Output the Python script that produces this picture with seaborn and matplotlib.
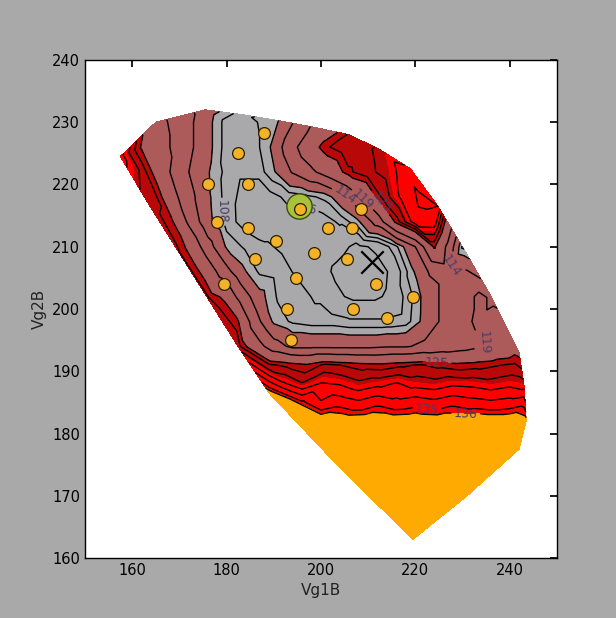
import numpy as np
import matplotlib
matplotlib.use("Agg")
import matplotlib.pyplot as plt
import matplotlib.tri as mtri
import seaborn as sns

# Measured response surface: boundary samples (convex outline of the scan)
edge_x = [157.5, 165.0, 175.5, 183.0, 190.75, 198.5, 206.0, 212.7, 219.0, 224.8, 230.0,
          236.3, 242.0, 243.1, 243.5, 242.0, 231.0, 219.5, 204.0, 189.0, 182.5, 176.2,
          169.9, 163.6]
edge_y = [224.5, 230.0, 232.0, 231.25, 230.3, 229.2, 228.0, 225.5, 222.5, 216.5, 210.0,
          201.7, 193.0, 187.5, 182.0, 177.5, 170.0, 163.0, 174.5, 186.5, 193.9, 201.5,
          209.1, 216.7]
edge_z = [132.0, 121.0, 112.0, 107.0, 109.6, 120.0, 127.4, 129.4, 131.4, 133.0, 107.5,
          118.0, 124.0, 130.4, 136.6, 140.0, 144.0, 150.0, 141.0, 137.0, 128.0, 127.4,
          127.2, 127.6]

# Interior samples, one row per Vg2B setting
row_y = [230, 226, 222, 218, 214, 210, 206, 202, 198, 194, 191, 188, 185, 182, 178, 172, 167]
row_x = [
    [170, 175, 180, 185, 189],
    [162, 166, 170, 175, 180, 185, 189, 193, 197, 201, 205, 209],
    [162, 166, 170, 174, 178, 182, 186, 190, 194, 198, 202, 206, 210, 214, 218],
    [165, 169, 173, 177, 181, 185, 189, 193, 197, 201, 205, 209, 213, 217, 221],
    [168, 172, 176, 180, 184, 188, 192, 196, 200, 204, 208, 212, 216, 220, 224],
    [172, 176, 180, 184, 188, 192, 196, 200, 204, 208, 212, 216, 220, 224, 227.5],
    [175, 179, 183, 187, 191, 195, 199, 203, 207, 211, 215, 219, 223, 227, 231],
    [179, 183, 187, 191, 195, 199, 203, 207, 211, 215, 219, 223, 227, 231, 234],
    [182, 186, 190, 194, 198, 202, 206, 210, 214, 218, 222, 226, 230, 234, 237],
    [186, 190, 194, 198, 202, 206, 210, 214, 218, 222, 226, 230, 234, 238, 241],
    [189, 193, 197, 201, 205, 209, 213, 217, 221, 225, 229, 233, 237, 241],
    [192, 196, 200, 204, 208, 212, 216, 220, 224, 228, 232, 236, 240],
    [196, 200, 204, 208, 212, 216, 220, 224, 228, 232, 236, 240, 243],
    [200, 205, 210, 215, 220, 225, 230, 235, 240],
    [205, 215, 225, 235],
    [212, 220, 228],
    [218, 222],
]
row_z = [
    [117, 112, 107, 107, 109.6],
    [124.6, 121, 117, 112, 107, 106.4, 109.6, 116, 122, 126.6, 128.4, 128.6],
    [128.6, 122, 116, 112, 108.6, 106.4, 106.4, 109.6, 114.4, 118, 122, 126.6, 128.6, 129.6, 132.4],
    [127.4, 120, 114.4, 109.6, 106.4, 105, 105, 106.6, 107.4, 108.6, 113, 120, 127.5, 131.4, 133.4],
    [126.4, 118, 111, 107, 105, 104.4, 104.4, 104.4, 104.6, 106.4, 109.6, 116, 126, 132.4, 132.6],
    [124, 116, 109.6, 107.6, 106.4, 105.6, 105, 104.4, 103.6, 102.4, 103.6, 107.6, 114, 125.6, 116],
    [124, 117, 111, 107.6, 107, 105.6, 104.4, 102.6, 101.6, 101.6, 103.4, 109, 114.4, 116, 114.4],
    [124.6, 117, 111, 107.6, 107, 105.6, 103.6, 102.4, 102.4, 103.6, 107.6, 112, 116, 118, 120],
    [126.4, 116, 109.4, 107.6, 107, 107, 106.4, 106.4, 106.4, 107, 111, 115, 118, 120, 121],
    [122, 116, 113, 113, 113, 113, 113, 113.6, 113.6, 115, 116, 117, 118.6, 121, 123],
    [127.4, 126.4, 125.4, 127.6, 126.8, 126.0, 125.8, 126.6, 127.2, 126.4, 125.8, 126.2, 126.8, 127.4],
    [131.4, 129.2, 131.2, 130.8, 129.6, 130.4, 131.2, 130.2, 129.8, 130.6, 130.4, 129.8, 130.4],
    [135.4, 133.2, 134.2, 133.4, 134.4, 133.6, 134.2, 133.6, 134.4, 133.8, 133.4, 133.8, 134.4],
    [137.6, 137.2, 137.4, 137.2, 137.4, 137.2, 137.2, 137.4, 137.4],
    [142, 142, 141, 140.4],
    [145, 145, 144],
    [148, 148],
]

# Operating points that were measured on the device
dot_x = [188, 182.5, 176, 184.5, 178, 184.5, 195.5, 186, 190.5, 201.5, 206.5, 208.5,
         198.5, 205.5, 194.7, 211.7, 219.5, 206.8, 192.8, 214, 179.5, 193.6]
dot_y = [228.3, 225, 220, 220, 214, 213, 216, 208, 211, 213, 213, 216,
         209, 208, 205, 204, 202, 200, 200, 198.5, 204, 195]

start_x, start_y = [195.3], [216.5]
best_x, best_y = [210.8], [207.6]

fill_levels = [90, 110, 125, 130, 136, 160]
fill_colors = ["#a9a9ac", "#ad5a5a", "#b80808", "#ff0000", "#ffaa00"]
line_levels = [103, 106, 108, 110, 114, 119, 125, 127, 129, 131, 133, 135, 136]
label_levels = [106, 108, 114, 119, 125, 135, 136]

sns.set_theme(style="white")
plt.rcParams.update({
    "font.family": ["DejaVu Sans"],
    "axes.edgecolor": "black",
    "axes.linewidth": 1.0,
    "xtick.direction": "in",
    "ytick.direction": "in",
    "xtick.top": True,
    "ytick.right": True,
    "xtick.major.size": 5,
    "ytick.major.size": 5,
    "xtick.color": "black",
    "ytick.color": "black",
    "xtick.labelsize": 10.5,
    "ytick.labelsize": 10.5,
    "axes.labelsize": 11,
    "axes.labelcolor": "#222222",
})

xs = list(edge_x)
ys = list(edge_y)
zs = list(edge_z)
for yv, xr, zr in zip(row_y, row_x, row_z):
    xs += xr
    ys += [yv] * len(xr)
    zs += zr

tri = mtri.Triangulation(np.array(xs, float), np.array(ys, float))
z = np.array(zs, float)

fig = plt.figure(figsize=(6.16, 6.18), dpi=100, facecolor="#a9a9a9")
ax = fig.add_axes([0.138, 0.097, 0.766, 0.806])
ax.set_facecolor("white")

ax.tricontourf(tri, z, levels=fill_levels, colors=fill_colors)
cs = ax.tricontour(tri, z, levels=line_levels, colors="black", linewidths=1.0)
ax.clabel(cs, levels=label_levels, fmt="%d", fontsize=9, colors="#4a3d66", inline=True)

ax.scatter(start_x, start_y, s=330, color="#a9c23c", edgecolors="#3d4d12",
           linewidths=1.0, zorder=4)
sns.scatterplot(x=dot_x, y=dot_y, ax=ax, color="#f4b228", edgecolor="#2a2000",
                linewidth=0.9, s=72, zorder=5, legend=False)
ax.scatter(best_x, best_y, marker="x", s=260, color="black", linewidths=1.6, zorder=6)

ax.set_xlim(150, 250)
ax.set_ylim(160, 240)
ax.set_xticks([160, 180, 200, 220, 240])
ax.set_yticks([160, 170, 180, 190, 200, 210, 220, 230, 240])
ax.set_xlabel("Vg1B")
ax.set_ylabel("Vg2B")
for s in ax.spines.values():
    s.set_visible(True)

fig.savefig("out.png", dpi=100, facecolor=fig.get_facecolor())
